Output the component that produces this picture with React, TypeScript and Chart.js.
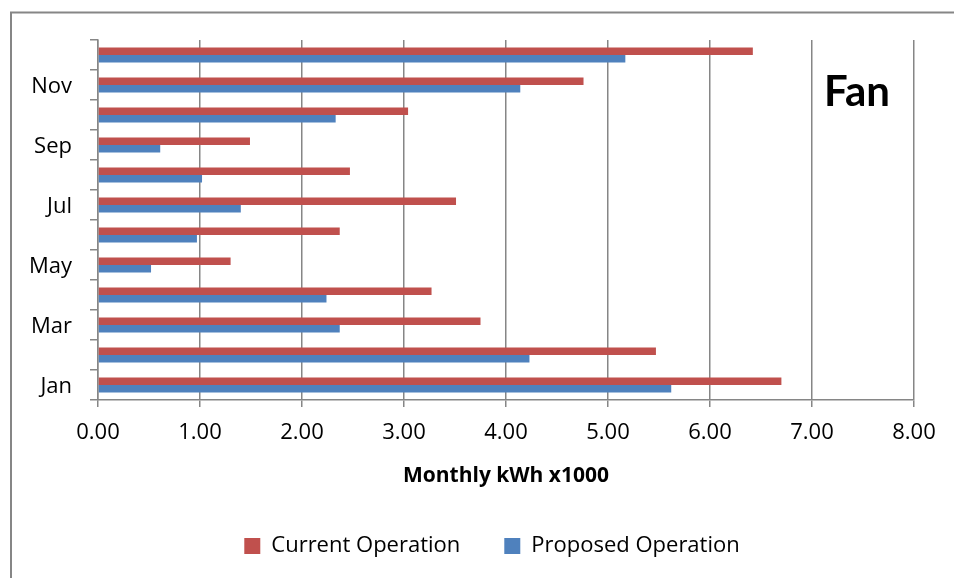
import React, { useEffect, useRef } from "react";
import { Chart, registerables } from "chart.js";

Chart.register(...registerables);

const months = ["Jan", "Feb", "Mar", "Apr", "May", "Jun", "Jul", "Aug", "Sep", "Oct", "Nov", "Dec"];
const currentOperation = [6.70, 5.47, 3.75, 3.27, 1.30, 2.37, 3.51, 2.47, 1.49, 3.04, 4.76, 6.42];
const proposedOperation = [5.62, 4.23, 2.37, 2.24, 0.52, 0.97, 1.40, 1.02, 0.61, 2.33, 4.14, 5.17];
const seriesNames = ["Current Operation", "Proposed Operation"];
const xTitle = "Monthly kWh x1000";
const chartLabel = "Fan";

const FONT = "'Open Sans', Lato, sans-serif";
const FAN_FONT = "Lato, 'Open Sans', sans-serif";

const framePlugin = {
  id: "frameAndLabel",
  afterLayout(chart: any) {
    // center the legend row under the reference position
    const lg = chart.legend;
    if (lg) {
      lg.left += 25;
      lg.right += 25;
    }
  },
  beforeDraw(chart: any) {
    const ctx = chart.ctx;
    ctx.save();
    ctx.fillStyle = "#ffffff";
    ctx.fillRect(0, 0, chart.width, chart.height);
    ctx.strokeStyle = "#868686";
    ctx.lineWidth = 2;
    ctx.strokeRect(11, 12.5, 2000, 2000);
    ctx.restore();
  },
  afterDraw(chart: any) {
    const ctx = chart.ctx;
    ctx.save();
    ctx.fillStyle = "#000000";
    ctx.font = "bold 42px " + FAN_FONT;
    ctx.textAlign = "left";
    ctx.textBaseline = "alphabetic";
    ctx.fillText(chartLabel, 824, 106);
    ctx.restore();
  },
};

export default function App() {
  const ref = useRef<HTMLCanvasElement>(null);
  useEffect(() => {
    document.body.style.margin = "0";
    const canvas = ref.current!;
    const chart = new Chart(canvas, {
      type: "bar",
      data: {
        labels: months,
        datasets: [
          {
            label: seriesNames[0],
            data: currentOperation,
            backgroundColor: "#C0504D",
            borderColor: "#C0504D",
            borderWidth: 0,
          },
          {
            label: seriesNames[1],
            data: proposedOperation,
            backgroundColor: "#4F81BD",
            borderColor: "#4F81BD",
            borderWidth: 0,
          },
        ],
      },
      plugins: [framePlugin],
      options: {
        indexAxis: "y",
        responsive: false,
        animation: false,
        maintainAspectRatio: false,
        layout: { padding: { left: 20, right: 40, top: 40, bottom: 11 } },
        datasets: { bar: { categoryPercentage: 0.5, barPercentage: 1.0 } },
        scales: {
          x: {
            min: 0,
            max: 8,
            afterFit(scale: any) {
              scale.height = 91;
            },
            ticks: {
              stepSize: 1,
              color: "#000",
              font: { family: FONT, size: 22 },
              padding: 13,
              callback: (v: any) => Number(v).toFixed(2),
            },
            grid: {
              color: "#868686",
              lineWidth: 1.5,
              tickLength: 7,
              drawTicks: true,
            },
            border: { display: true, color: "#868686", width: 1.5 },
            title: {
              display: true,
              text: xTitle,
              color: "#000",
              font: { family: FONT, size: 21, weight: "bold" },
              padding: { top: 4, bottom: 2 },
            },
          },
          y: {
            reverse: true,
            afterFit(scale: any) {
              scale.width = 78;
            },
            ticks: {
              autoSkip: false,
              color: "#000",
              font: { family: FONT, size: 22 },
              padding: 18,
              labelOffset: 2,
              callback: (_v: any, i: number) => (i % 2 === 0 ? months[i] : ""),
            },
            grid: {
              offset: true,
              drawOnChartArea: false,
              drawTicks: true,
              tickLength: 8,
              color: "#868686",
              lineWidth: 1.5,
            },
            border: { display: true, color: "#868686", width: 1.5 },
          },
        },
        plugins: {
          legend: {
            position: "bottom",
            labels: {
              boxWidth: 16,
              boxHeight: 16,
              padding: 44,
              color: "#000",
              font: { family: FONT, size: 22 },
            },
          },
          tooltip: { enabled: false },
        },
      },
    });
    return () => chart.destroy();
  }, []);
  return (
    <div style={{ position: "absolute", left: 0, top: 0, width: 954, height: 578 }}>
      <canvas ref={ref} width={954} height={578} />
    </div>
  );
}
